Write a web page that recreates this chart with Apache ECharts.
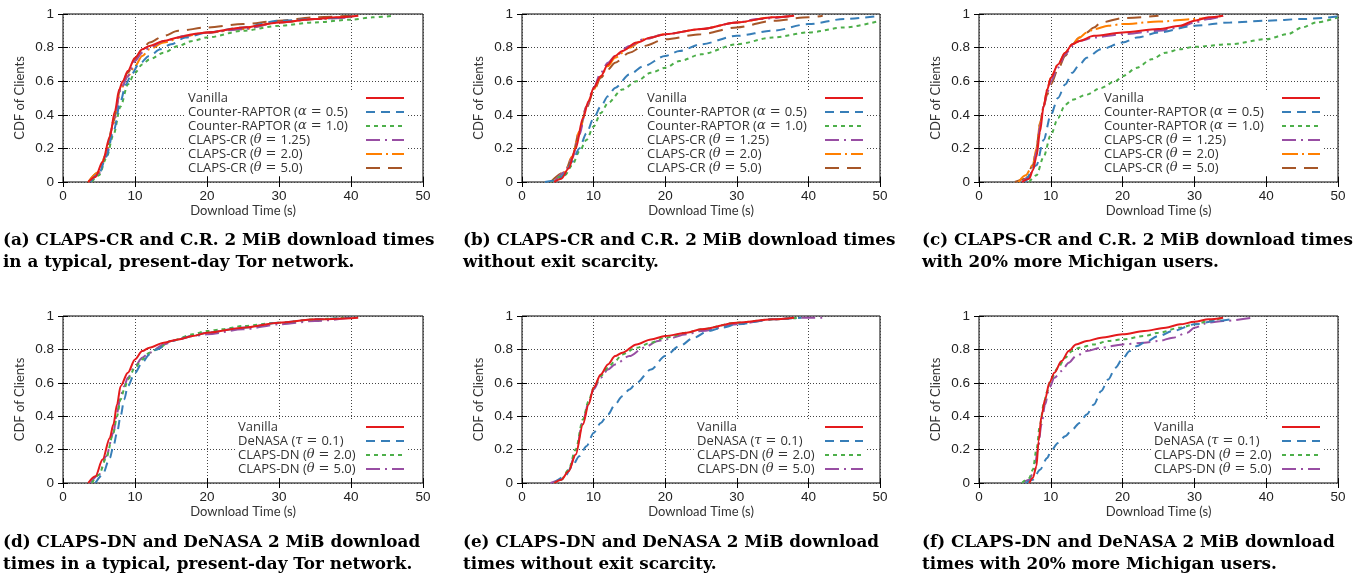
<!DOCTYPE html>
<html><head><meta charset="utf-8">
<script src="https://cdn.jsdelivr.net/npm/echarts@6/dist/echarts.min.js"></script>
<style>html,body{margin:0;padding:0;background:#fff}#c{width:1364px;height:577px}</style>
</head><body><div id="c"></div>
<script>
// ---------- axis ticks ----------
const xMin = 0, xMax = 50, xStep = 10;
const yMin = 0, yMax = 1, yStep = 0.2;
const xAxisName = 'Download Time (s)';
const yAxisName = 'CDF of Clients';

// ---------- series names ----------
const namesCR = ['Vanilla', 'Counter-RAPTOR (α = 0.5)', 'Counter-RAPTOR (α = 1.0)', 'CLAPS-CR (θ = 1.25)', 'CLAPS-CR (θ = 2.0)', 'CLAPS-CR (θ = 5.0)'];
const namesDN = ['Vanilla', 'DeNASA (τ = 0.1)', 'CLAPS-DN (θ = 2.0)', 'CLAPS-DN (θ = 5.0)'];

// ---------- captions ----------
const captions = [
  '(a) CLAPS-CR and C.R. 2 MiB download times\nin a typical, present-day Tor network.',
  '(b) CLAPS-CR and C.R. 2 MiB download times\nwithout exit scarcity.',
  '(c) CLAPS-CR and C.R. 2 MiB download times\nwith 20% more Michigan users.',
  '(d) CLAPS-DN and DeNASA 2 MiB download\ntimes in a typical, present-day Tor network.',
  '(e) CLAPS-DN and DeNASA 2 MiB download\ntimes without exit scarcity.',
  '(f) CLAPS-DN and DeNASA 2 MiB download\ntimes with 20% more Michigan users.'
];

// ---------- panel (a) ----------
const a_vanilla = [[3.5,0],[4.5,0.03],[5.5,0.12],[6.5,0.27],[7.2,0.42],[7.8,0.55],[8.3,0.6],[9,0.66],[10,0.74],[11,0.79],[12,0.81],[14,0.84],[16,0.86],[18,0.88],[20,0.89],[25,0.92],[30,0.95],[35,0.97],[38,0.98],[41,0.99]];
const a_cr05 = [[3.8,0],[5,0.05],[6,0.15],[7,0.3],[8,0.48],[8.7,0.58],[9.5,0.64],[10.5,0.7],[12,0.75],[13.5,0.79],[15,0.82],[17,0.86],[20,0.89],[25,0.92],[30,0.96],[35,0.97],[41,0.99]];
const a_cr10 = [[4,0],[5,0.04],[6,0.14],[7,0.28],[8,0.45],[9,0.58],[10,0.65],[11,0.7],[12,0.73],[14,0.77],[16,0.81],[18,0.84],[20,0.86],[25,0.9],[30,0.93],[35,0.95],[40,0.966],[43,0.98],[46,0.99]];
const a_claps125 = [[3.8,0],[5,0.05],[6,0.16],[7,0.35],[8,0.55],[9,0.63],[10,0.72],[11,0.77],[12,0.8],[14,0.84],[17,0.87],[20,0.89],[25,0.91],[30,0.95],[35,0.97],[40,0.98]];
const a_claps20 = [[3.5,0],[5,0.06],[6,0.17],[7,0.35],[8,0.55],[9,0.63],[10,0.69],[11,0.75],[12,0.79],[14,0.83],[17,0.87],[20,0.89],[25,0.91],[30,0.95],[35,0.97],[41,0.99]];
const a_claps50 = [[3.5,0],[5,0.06],[6,0.17],[7,0.36],[8,0.56],[9,0.65],[10,0.73],[11,0.79],[12,0.83],[14,0.87],[16,0.9],[20,0.92],[25,0.94],[30,0.96],[35,0.98],[40,0.99]];

// ---------- panel (b) ----------
const b_vanilla = [[4.5,0],[5.5,0.02],[6.5,0.08],[7.5,0.2],[8.5,0.38],[9.3,0.48],[10,0.56],[11,0.63],[12,0.7],[13,0.75],[14,0.78],[16,0.83],[18,0.86],[20,0.88],[25,0.91],[30,0.95],[35,0.98],[38,0.99]];
const b_cr05 = [[3.2,0],[5,0.01],[6,0.05],[7,0.12],[8,0.2],[9,0.29],[10,0.38],[11,0.45],[12,0.51],[13,0.56],[15,0.64],[17,0.69],[20,0.75],[22,0.78],[25,0.82],[30,0.87],[35,0.9],[40,0.94],[45,0.97],[50,0.99]];
const b_cr10 = [[4,0],[6,0.04],[7,0.1],[8,0.18],[9,0.25],[10,0.33],[11,0.41],[12,0.47],[14,0.55],[16,0.6],[18,0.65],[20,0.68],[22,0.72],[25,0.76],[30,0.82],[35,0.86],[40,0.89],[45,0.92],[50,0.96]];
const b_claps125 = [[4.5,0],[6,0.06],[7,0.14],[8,0.28],[9,0.45],[10,0.56],[11,0.65],[12,0.71],[13,0.75],[15,0.81],[17,0.85],[20,0.88],[25,0.91],[30,0.95],[33,0.97],[38,0.99]];
const b_claps20 = [[4.5,0],[6,0.06],[7,0.15],[8,0.3],[9,0.45],[10,0.55],[11,0.63],[12,0.69],[13,0.74],[15,0.8],[17,0.85],[20,0.88],[25,0.91],[30,0.95],[35,0.98],[38,0.99]];
const b_claps50 = [[4,0],[6,0.06],[7,0.15],[8,0.3],[9,0.44],[10,0.54],[11,0.62],[12,0.67],[13,0.71],[15,0.77],[17,0.81],[20,0.85],[25,0.88],[30,0.92],[35,0.96],[40,0.98],[42,0.99]];

// ---------- panel (c) ----------
const c_vanilla = [[6,0],[7,0.02],[7.5,0.07],[8,0.15],[8.5,0.3],[9,0.45],[9.5,0.55],[10,0.62],[11,0.7],[12,0.77],[13,0.82],[14,0.84],[16,0.87],[20,0.89],[25,0.91],[28,0.93],[30,0.96],[32,0.98],[34,0.99]];
const c_cr05 = [[6.5,0],[8,0.1],[9,0.25],[10,0.4],[11,0.5],[12,0.58],[13,0.65],[14,0.7],[15,0.74],[17,0.79],[20,0.83],[22,0.86],[25,0.89],[30,0.93],[35,0.95],[40,0.96],[45,0.97],[50,0.985]];
const c_cr10 = [[7,0],[8,0.04],[9,0.15],[10,0.28],[11,0.38],[12,0.46],[13,0.49],[15,0.52],[17,0.56],[19,0.6],[20,0.63],[22,0.68],[24,0.73],[26,0.77],[28,0.79],[30,0.805],[35,0.82],[40,0.85],[43,0.88],[45,0.92],[47,0.95],[50,0.98]];
const c_claps125 = [[6,0],[7,0.03],[7.5,0.08],[8,0.18],[8.5,0.33],[9,0.45],[9.5,0.53],[10,0.6],[11,0.68],[12,0.76],[13,0.81],[14,0.84],[16,0.86],[20,0.88],[25,0.9],[28,0.92],[30,0.95],[32,0.97],[34,0.99]];
const c_claps20 = [[5.5,0],[6.5,0.04],[7.5,0.1],[8,0.2],[8.5,0.35],[9,0.45],[9.5,0.55],[10,0.62],[11,0.7],[12,0.77],[13,0.82],[14,0.86],[15,0.89],[16,0.91],[18,0.93],[20,0.94],[25,0.955],[30,0.97],[34,0.99]];
const c_claps50 = [[5,0],[6.5,0.02],[7.5,0.1],[8,0.2],[8.5,0.35],[9,0.45],[9.5,0.52],[10,0.58],[11,0.67],[12,0.75],[13,0.82],[14,0.86],[15,0.89],[16,0.92],[17,0.95],[20,0.975],[25,0.99]];

// ---------- panel (d) ----------
const d_vanilla = [[3.5,0],[4.5,0.04],[5.5,0.14],[6.5,0.27],[7,0.35],[7.5,0.47],[8,0.58],[9,0.66],[10,0.74],[11,0.79],[12,0.81],[14,0.84],[16,0.86],[18,0.88],[20,0.9],[25,0.93],[30,0.96],[35,0.98],[41,0.99]];
const d_denasa = [[4.5,0],[5.5,0.05],[6.5,0.15],[7,0.22],[7.5,0.3],[8,0.4],[8.5,0.5],[9,0.58],[10,0.66],[11,0.72],[12,0.77],[13,0.8],[15,0.85],[18,0.88],[20,0.9],[25,0.93],[30,0.96],[35,0.98],[40,0.99]];
const d_claps20 = [[4,0],[5,0.05],[6,0.15],[7,0.3],[7.5,0.4],[8,0.5],[8.5,0.56],[9,0.62],[10,0.69],[11,0.74],[12,0.78],[13,0.8],[15,0.85],[18,0.89],[20,0.91],[22,0.92],[25,0.94],[30,0.96],[35,0.98],[39,0.99]];
const d_claps50 = [[3.8,0],[5,0.05],[6,0.16],[7,0.3],[7.5,0.42],[8,0.52],[8.5,0.58],[9,0.63],[10,0.7],[11,0.75],[12,0.78],[14,0.83],[16,0.86],[18,0.88],[20,0.89],[25,0.92],[30,0.95],[35,0.97],[40,0.99]];

// ---------- panel (e) ----------
const e_vanilla = [[4.5,0],[5.5,0.02],[6.5,0.07],[7.5,0.17],[8.5,0.35],[9.3,0.47],[10,0.57],[11,0.65],[12,0.71],[13,0.76],[14,0.78],[16,0.83],[18,0.86],[20,0.88],[23,0.9],[25,0.92],[30,0.96],[35,0.98],[38,0.99]];
const e_denasa = [[4.5,0],[6,0.04],[7,0.1],[8,0.16],[9,0.22],[10,0.3],[11,0.36],[12,0.41],[13,0.47],[14,0.52],[15,0.56],[16,0.6],[18,0.68],[20,0.76],[22,0.82],[24,0.87],[26,0.91],[28,0.93],[30,0.95],[35,0.98],[39,0.99]];
const e_claps20 = [[4.5,0],[5.5,0.02],[6.5,0.08],[7.5,0.2],[8.5,0.38],[9.3,0.49],[10,0.57],[11,0.64],[12,0.69],[13,0.73],[14,0.77],[16,0.81],[18,0.84],[20,0.87],[23,0.9],[25,0.92],[30,0.96],[35,0.98],[39,0.99]];
const e_claps50 = [[4,0],[5.5,0.02],[6.5,0.07],[7.5,0.18],[8.5,0.37],[9.3,0.48],[10,0.56],[11,0.63],[12,0.68],[13,0.71],[15,0.76],[17,0.81],[19,0.85],[20,0.86],[23,0.89],[25,0.91],[30,0.95],[35,0.98],[40,0.99],[42,0.99]];

// ---------- panel (f) ----------
const f_vanilla = [[7,0],[7.5,0.03],[8,0.1],[8.3,0.25],[8.7,0.4],[9.2,0.5],[9.8,0.6],[10.5,0.66],[11.5,0.73],[12.5,0.79],[13.5,0.83],[15,0.85],[17,0.87],[20,0.89],[23,0.91],[26,0.93],[28,0.95],[30,0.965],[32,0.98],[34,0.99]];
const f_denasa = [[6.5,0],[7.5,0.02],[8.5,0.08],[9.5,0.15],[10,0.19],[11,0.24],[12,0.28],[13,0.32],[14,0.36],[15,0.41],[16,0.47],[17,0.55],[18,0.62],[19,0.69],[20,0.745],[21,0.79],[22,0.82],[23,0.84],[25,0.88],[27,0.91],[30,0.95],[33,0.97],[35,0.98]];
const f_claps20 = [[6,0],[7,0.03],[7.5,0.08],[8,0.2],[8.5,0.35],[9,0.47],[9.5,0.55],[10,0.62],[11,0.69],[12,0.75],[13,0.79],[14,0.81],[16,0.83],[18,0.85],[20,0.86],[23,0.88],[25,0.9],[28,0.93],[30,0.95],[32,0.97],[34,0.99]];
const f_claps50 = [[6,0],[7,0.02],[7.7,0.08],[8.2,0.2],[8.7,0.35],[9.2,0.47],[9.8,0.57],[10.5,0.63],[11.5,0.67],[12.5,0.72],[13.5,0.76],[15,0.79],[17,0.81],[20,0.83],[23,0.84],[25,0.85],[27,0.87],[29,0.9],[30,0.93],[32,0.96],[34,0.97],[38,0.99]];

// ---------- styles ----------
const RED = '#e41a1c', BLUE = '#377eb8', GREEN = '#4daf4a', PURPLE = '#984ea3', ORANGE = '#ff7f00', BROWN = '#a65628';
const styleOf = {
  'Vanilla': [RED, 'solid'],
  'Counter-RAPTOR (α = 0.5)': [BLUE, [9, 6]],
  'Counter-RAPTOR (α = 1.0)': [GREEN, [4, 4]],
  'CLAPS-CR (θ = 1.25)': [PURPLE, [14, 5, 2, 5]],
  'CLAPS-CR (θ = 2.0)': [ORANGE, [16, 4, 2, 4]],
  'CLAPS-CR (θ = 5.0)': [BROWN, [14, 8]],
  'DeNASA (τ = 0.1)': [BLUE, [9, 6]],
  'CLAPS-DN (θ = 2.0)': [GREEN, [4, 4]],
  'CLAPS-DN (θ = 5.0)': [PURPLE, [14, 5, 2, 5]]
};

const panels = [
  { names: namesCR, data: [a_vanilla, a_cr05, a_cr10, a_claps125, a_claps20, a_claps50] },
  { names: namesCR, data: [b_vanilla, b_cr05, b_cr10, b_claps125, b_claps20, b_claps50] },
  { names: namesCR, data: [c_vanilla, c_cr05, c_cr10, c_claps125, c_claps20, c_claps50] },
  { names: namesDN, data: [d_vanilla, d_denasa, d_claps20, d_claps50] },
  { names: namesDN, data: [e_vanilla, e_denasa, e_claps20, e_claps50] },
  { names: namesDN, data: [f_vanilla, f_denasa, f_claps20, f_claps50] }
];

// ---------- layout ----------
const colLeft = [63, 522, 979], colWidth = [360, 358, 359];
const rowTop = [14, 316], rowHeight = [168, 167];
const capLeft = [3, 463, 922], capTop = [230, 532];

// legend text fonts + measurement (so icons line up at a fixed column)
const LEG_FONT = 'Open Sans', LEG_SIZE = 13;
const GREEK_FONT = 'DejaVu Serif', EQ_FONT = 'DejaVu Sans', EQ_PAD = 4;
const mctx = document.createElement('canvas').getContext('2d');
function tw(txt, font) { mctx.font = font; return mctx.measureText(txt).width; }
function legendTokens(nm) {
  const m = nm.match(/^(.*\()([αθτ]) = (.*)$/);
  if (!m) return { str: nm, w: tw(nm, LEG_SIZE + 'px "' + LEG_FONT + '"') };
  const base = LEG_SIZE + 'px "' + LEG_FONT + '"';
  const w = tw(m[1], base) + tw(m[2], 'italic 13px "' + GREEK_FONT + '"') + tw('=', '13px "' + EQ_FONT + '"') + 2 * EQ_PAD + tw(m[3], base);
  return { str: m[1] + '{g|' + m[2] + '}{eq|=}' + m[3], w: w };
}

const grids = [], xAxes = [], yAxes = [], series = [], legends = [], titles = [];
const tickFont = { fontFamily: 'Liberation Sans', fontSize: 13.5, color: '#222' };
const nameFont = { fontFamily: 'Lato', fontSize: 13, color: '#333' };
const gridLine = { show: true, lineStyle: { color: '#444', type: [1, 2], width: 1 } };

panels.forEach((p, i) => {
  const col = i % 3, row = Math.floor(i / 3);
  grids.push({ left: colLeft[col], top: rowTop[row], width: colWidth[col], height: rowHeight[row],
    show: true, borderColor: '#000', borderWidth: 1, backgroundColor: 'transparent' });
  const tick = { show: true, inside: true, length: 5, lineStyle: { color: '#000' } };
  const xBase = { type: 'value', gridIndex: i, min: xMin, max: xMax, interval: xStep, axisLine: { show: false }, axisTick: tick };
  const yBase = { type: 'value', gridIndex: i, min: yMin, max: yMax, interval: yStep, axisLine: { show: false }, axisTick: tick };
  xAxes.push(Object.assign({}, xBase, { position: 'bottom',
    axisLabel: Object.assign({ margin: 7 }, tickFont),
    splitLine: gridLine,
    name: xAxisName, nameLocation: 'middle', nameGap: 21, nameTextStyle: nameFont }));
  xAxes.push(Object.assign({}, xBase, { position: 'top', axisLabel: { show: false }, splitLine: { show: false } }));
  yAxes.push(Object.assign({}, yBase, { position: 'left',
    axisLabel: Object.assign({ margin: 9, formatter: v => String(+v.toFixed(1)) }, tickFont),
    splitLine: gridLine,
    name: yAxisName, nameLocation: 'middle', nameGap: 37, nameTextStyle: nameFont }));
  yAxes.push(Object.assign({}, yBase, { position: 'right', axisLabel: { show: false }, splitLine: { show: false } }));

  p.names.forEach((nm, k) => {
    const st = styleOf[nm];
    series.push({
      type: 'line', name: nm, xAxisIndex: 2 * i, yAxisIndex: 2 * i,
      data: p.data[k], showSymbol: false, symbol: 'none',
      smooth: 0.3, smoothMonotone: 'x',
      lineStyle: { color: st[0], width: 2, type: st[1] },
      itemStyle: { color: st[0] }, z: 3 + (p.names.length - k) * 0.01
    });
  });

  const isCR = p.names.length === 6;
  const textLeft = colLeft[col] + (isCR ? 125 : 175);
  const iconLeft = colLeft[col] + 303;
  const textWidth = iconLeft - 5 - textLeft;
  const rich = {
    g: { fontFamily: GREEK_FONT, fontStyle: 'italic', fontSize: 13, color: '#333' },
    eq: { fontFamily: EQ_FONT, fontSize: 13, color: '#333', padding: [0, EQ_PAD, 0, EQ_PAD] }
  };
  const fmt = {};
  p.names.forEach((nm, k) => {
    const t = legendTokens(nm);
    const pad = Math.max(0, textWidth - t.w);
    rich['s' + k] = { width: pad, fontSize: LEG_SIZE };
    fmt[nm] = t.str + '{s' + k + '| }';
  });
  legends.push({
    data: p.names, orient: 'vertical', align: 'right',
    left: textLeft - 3, top: (row === 0 ? 91 : 420) - 1,
    itemWidth: 38, itemHeight: 10, itemGap: 0, padding: [1, 2, 1, 3],
    backgroundColor: '#fff', z: 1, selectedMode: false,
    itemStyle: { opacity: 0, borderWidth: 0 },
    textStyle: { fontFamily: LEG_FONT, fontSize: LEG_SIZE, color: '#333', lineHeight: 14, rich: rich },
    formatter: nm => fmt[nm]
  });

  titles.push({ text: captions[i], left: capLeft[col], top: capTop[row], padding: 0,
    textStyle: { fontFamily: 'DejaVu Serif', fontWeight: 'bold', fontSize: 16.8, lineHeight: 22, color: '#000' } });
});

const chart = echarts.init(document.getElementById('c'), null, { renderer: 'canvas' });
chart.setOption({
  animation: false, backgroundColor: '#fff',
  title: titles, grid: grids, xAxis: xAxes, yAxis: yAxes, legend: legends, series: series
});
</script></body></html>
